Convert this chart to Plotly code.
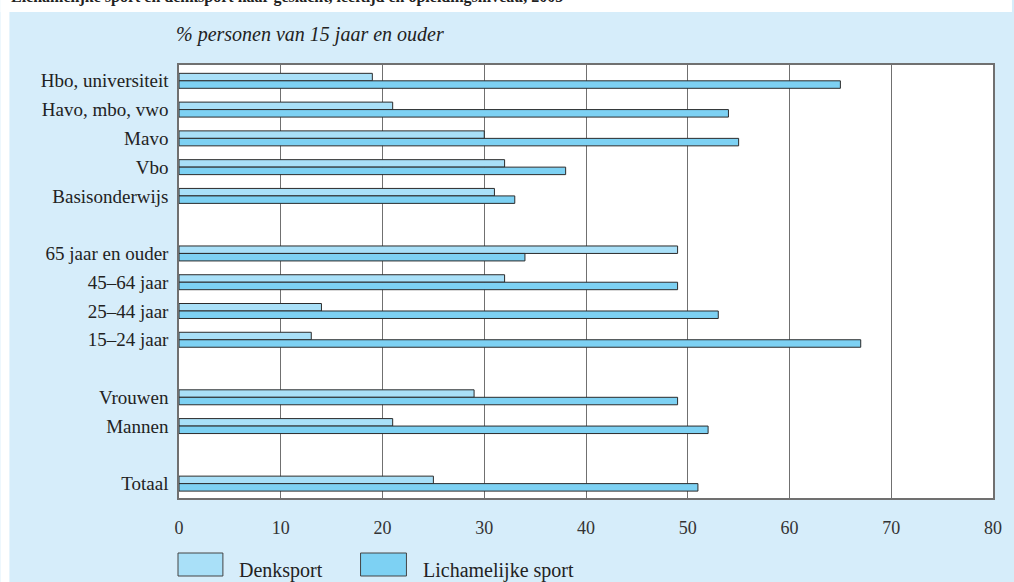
import plotly.graph_objects as go

categories = ["Hbo, universiteit", "Havo, mbo, vwo", "Mavo", "Vbo", "Basisonderwijs",
              "65 jaar en ouder", "45–64 jaar", "25–44 jaar", "15–24 jaar",
              "Vrouwen", "Mannen", "Totaal"]
slots = [0, 1, 2, 3, 4, 6, 7, 8, 9, 11, 12, 14]
denksport = [19, 21, 30, 32, 31, 49, 32, 14, 13, 29, 21, 25]
lichamelijk = [65, 54, 55, 38, 33, 34, 49, 53, 67, 49, 52, 51]
series_names = ["Denksport", "Lichamelijke sport"]
x_ticks = [0, 10, 20, 30, 40, 50, 60, 70, 80]

col_denk = "#a9e0f8"
col_lich = "#7dd1f3"
bg_blue = "#d6edfa"
edge = "#2b2b2b"
grid = "#707070"
serif = "Liberation Serif"

W, H = 1014, 582
L, R, T, B = 179, 1014 - 995, 65, 582 - 498
pw, ph = W - L - R, H - T - B

def px(x):
    return (x - L) / pw

def py(y):
    return (H - B - y) / ph

fig = go.Figure()
fig.add_trace(go.Bar(y=slots, x=denksport, orientation="h", name=series_names[0],
                     marker=dict(color=col_denk, line=dict(color=edge, width=1))))
fig.add_trace(go.Bar(y=slots, x=lichamelijk, orientation="h", name=series_names[1],
                     marker=dict(color=col_lich, line=dict(color=edge, width=1))))

shapes = [
    dict(type="rect", xref="paper", yref="paper", x0=px(0), x1=px(1014), y0=py(0), y1=py(12),
         fillcolor="white", line=dict(width=0), layer="below"),
    dict(type="rect", xref="paper", yref="paper", x0=px(0), x1=px(9), y0=py(582), y1=py(0),
         fillcolor="white", line=dict(width=0), layer="below"),
    dict(type="rect", xref="paper", yref="paper", x0=px(178), x1=px(223), y0=py(576), y1=py(553),
         fillcolor=col_denk, line=dict(color="#444", width=1)),
    dict(type="rect", xref="paper", yref="paper", x0=px(361), x1=px(407), y0=py(576), y1=py(553),
         fillcolor=col_lich, line=dict(color="#444", width=1)),
]

annotations = [
    dict(text="<b>Lichamelijke sport en denksport naar geslacht, leeftijd en opleidingsniveau, 2003</b>",
         xref="paper", yref="paper", x=px(9), y=py(-3), xanchor="left", yanchor="middle",
         showarrow=False, font=dict(family=serif, size=16, color="#222")),
    dict(text="<i>% personen van 15 jaar en ouder</i>", xref="paper", yref="paper",
         x=px(174), y=py(34), xanchor="left", yanchor="middle", showarrow=False,
         font=dict(family=serif, size=20, color="#222")),
    dict(text=series_names[0], xref="paper", yref="paper", x=px(237), y=py(570),
         xanchor="left", yanchor="middle", showarrow=False,
         font=dict(family=serif, size=20, color="#222")),
    dict(text=series_names[1], xref="paper", yref="paper", x=px(422), y=py(570),
         xanchor="left", yanchor="middle", showarrow=False,
         font=dict(family=serif, size=20, color="#222")),
]

fig.update_layout(
    width=W, height=H,
    margin=dict(l=L, r=R, t=T, b=B, pad=0),
    paper_bgcolor=bg_blue, plot_bgcolor="white",
    barmode="group", bargap=0.48, bargroupgap=0,
    showlegend=False,
    shapes=shapes, annotations=annotations,
    xaxis=dict(range=[0, 80], tickvals=x_ticks, showgrid=True, gridcolor=grid, gridwidth=1.2,
               showline=True, linecolor=grid, linewidth=1.5, mirror=True, zeroline=False,
               ticks="", ticklabelstandoff=13,
               tickfont=dict(family=serif, size=18, color="#333")),
    yaxis=dict(range=[14.5, -0.55], tickvals=slots, ticktext=categories, showgrid=False,
               showline=True, linecolor=grid, linewidth=1.5, mirror=True, zeroline=False,
               ticks="", ticklabelstandoff=5,
               tickfont=dict(family=serif, size=19, color="#222")),
)

post = ("document.documentElement.style.overflow='hidden';"
        "document.body.style.overflow='hidden';"
        "document.body.style.margin='0px';"
        "document.documentElement.style.background='" + bg_blue + "';"
        "document.body.style.background='" + bg_blue + "';")
fig.write_html("out.html", config={"displayModeBar": False}, post_script=post)
